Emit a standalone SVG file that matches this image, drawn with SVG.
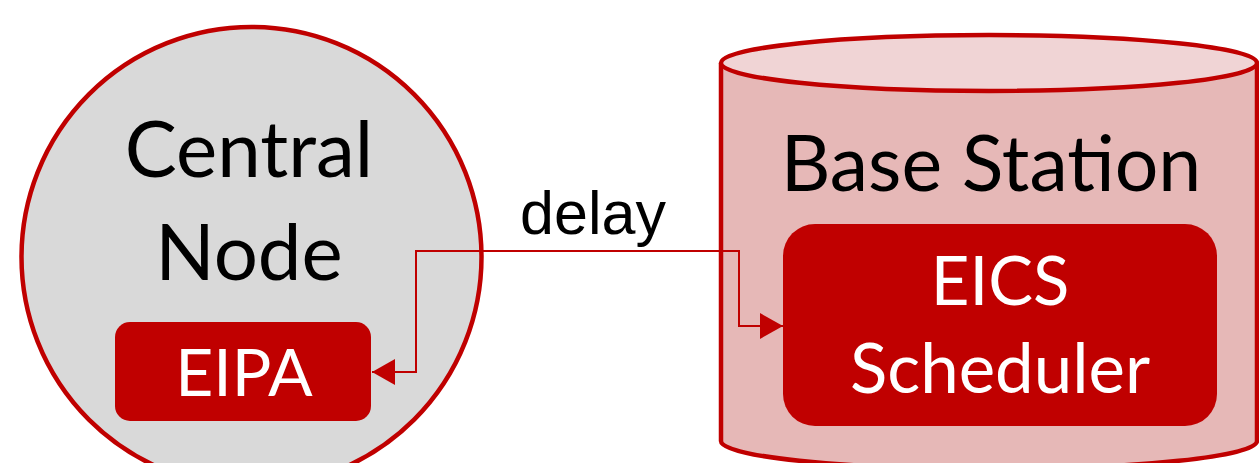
<svg xmlns="http://www.w3.org/2000/svg" width="1259" height="463" viewBox="0 0 1259 463">
<style>
.hdr{font-family:Lato,"Open Sans","Liberation Sans",sans-serif;fill:#000;text-anchor:middle}
.lbl{font-family:Lato,"Open Sans","Liberation Sans",sans-serif;fill:#fff;text-anchor:middle}
.box{fill:#C00000}
.conn{fill:none;stroke:#C00000;stroke-width:2}
</style>
<defs>
<marker id="arr" markerUnits="userSpaceOnUse" markerWidth="24" markerHeight="28" refX="23" refY="13" orient="auto-start-reverse">
<path d="M0,0 L23,13 L0,26 Z" fill="#C00000"/>
</marker>
</defs>
<rect width="1259" height="463" fill="#fff"/>
<g id="central-node">
<circle cx="251.5" cy="257" r="230" fill="#D9D9D9" stroke="#C00000" stroke-width="4.5"/>
<text class="hdr" x="249" y="177" font-size="78">Central</text>
<text class="hdr" x="249" y="280" font-size="78">Node</text>
</g>
<g id="eipa">
<rect class="box" x="115" y="322" width="256" height="99" rx="15"/>
<text class="lbl" x="244" y="396" font-size="66">EIPA</text>
</g>
<g id="base-station">
<path d="M721,63 V441 A268,28 0 0 0 1257,441 V63" fill="#E6B8B7" stroke="#C00000" stroke-width="4.5"/>
<ellipse cx="989" cy="63" rx="268" ry="28" fill="#F0D4D5" stroke="#C00000" stroke-width="4.5"/>
<text class="hdr" x="991" y="191" font-size="77">Base Station</text>
</g>
<g id="eics-scheduler">
<rect class="box" x="783" y="224" width="434" height="202" rx="32"/>
<text class="lbl" x="1000" y="305" font-size="67">EICS</text>
<text class="lbl" x="1000" y="393" font-size="69">Scheduler</text>
</g>
<g id="connectors">
<path class="conn" d="M372,372 H416 V251 H739 V326 H783" marker-start="url(#arr)" marker-end="url(#arr)"/>
<text x="593" y="234" font-family="'Liberation Sans',Arial,sans-serif" font-size="61" text-anchor="middle" fill="#000">delay</text>
</g>
</svg>
